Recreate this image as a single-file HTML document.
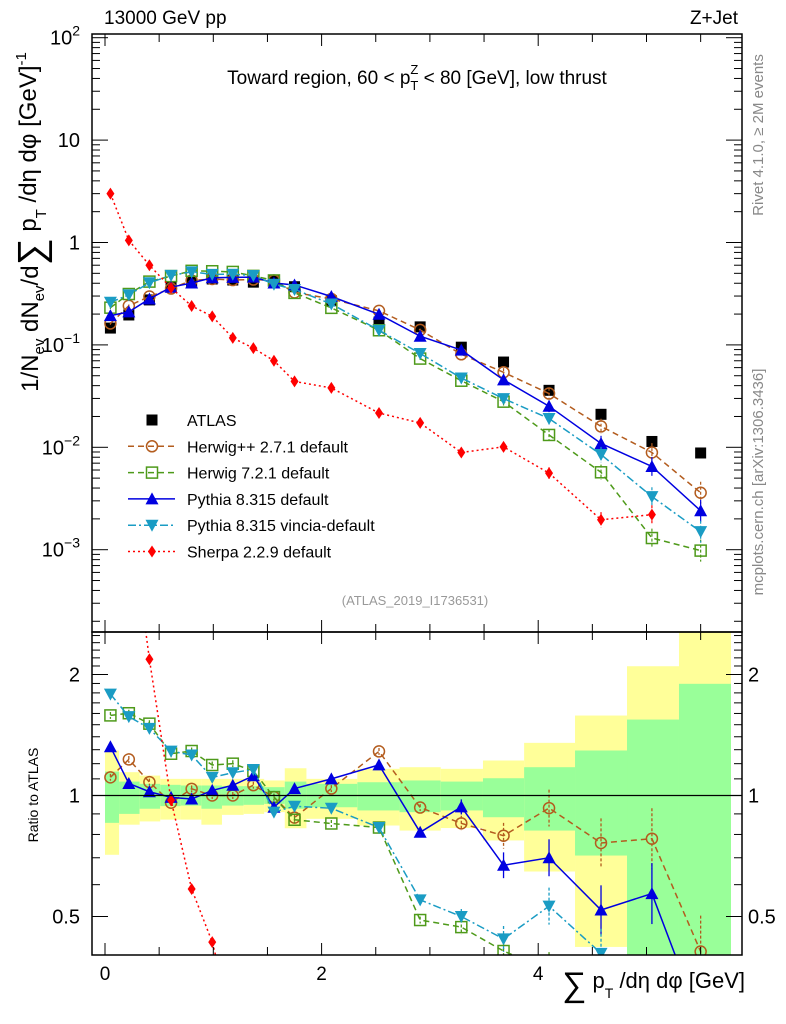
<!DOCTYPE html>
<html><head><meta charset="utf-8">
<style>
html,body{margin:0;padding:0;background:#fff;overflow:hidden;width:786px;height:1024px;}
svg{display:block;font-family:"Liberation Sans",sans-serif;}
</style></head>
<body>
<svg id="chart" width="786" height="1024" viewBox="0 0 786 1024" xmlns="http://www.w3.org/2000/svg">
<defs>
<clipPath id="clipMain"><rect x="92" y="34" width="650" height="598"/></clipPath>
<clipPath id="clipRatio"><rect x="92" y="632" width="650" height="323"/></clipPath>
</defs>
<g id="bands" clip-path="url(#clipRatio)"></g>
<g id="series-main" clip-path="url(#clipMain)"></g>
<g id="series-ratio" clip-path="url(#clipRatio)"></g>
<g id="axes"></g>
<text x="104" y="24" font-size="19">13000 GeV pp</text>
<text x="738" y="24" font-size="19" text-anchor="end">Z+Jet</text>
<text x="417" y="84" font-size="19" text-anchor="middle">Toward region, 60 &lt; p<tspan font-size="13" dy="6">T</tspan><tspan font-size="13" dx="-8" dy="-16">Z</tspan><tspan dy="10"> &lt; 80 [GeV], low thrust</tspan></text>
<text x="415" y="605" font-size="13" fill="#999" text-anchor="middle">(ATLAS_2019_I1736531)</text>
<text transform="translate(763,135) rotate(-90)" font-size="15" fill="#888" text-anchor="middle">Rivet 4.1.0, ≥ 2M events</text>
<text transform="translate(763,482) rotate(-90)" font-size="15" fill="#888" text-anchor="middle">mcplots.cern.ch [arXiv:1306.3436]</text>
<text transform="translate(38,222) rotate(-90)" font-size="24" text-anchor="middle">1/N<tspan font-size="15" dy="6">ev</tspan><tspan dy="-6"> dN</tspan><tspan font-size="15" dy="6">ev</tspan><tspan dy="-6">/d</tspan><tspan font-size="38" dy="6">∑</tspan><tspan dy="-8"> p</tspan><tspan font-size="15" dy="10">T</tspan><tspan dy="-10"> /dη dφ  [GeV]</tspan><tspan font-size="15" dy="-10">-1</tspan></text>
<text transform="translate(38,795) rotate(-90)" font-size="14" text-anchor="middle">Ratio to ATLAS</text>
<text x="745" y="996" font-size="22" text-anchor="end"><tspan font-size="34" dy="0">∑</tspan><tspan dy="-8"> p</tspan><tspan font-size="14" dy="10">T</tspan><tspan dy="-10"> /dη dφ [GeV]</tspan></text>
<g id="legend"></g>
</svg>
<script>
const xCenters = [0.05,0.22,0.41,0.61,0.80,0.99,1.18,1.37,1.56,1.75,2.09,2.53,2.91,3.29,3.68,4.10,4.58,5.05,5.50];
const binEdges = [0,0.13,0.32,0.51,0.70,0.89,1.08,1.28,1.47,1.66,1.86,2.33,2.72,3.10,3.49,3.87,4.34,4.82,5.30,5.78];
const atlas = [0.146,0.196,0.275,0.37,0.41,0.44,0.43,0.41,0.43,0.37,0.27,0.167,0.15,0.095,0.068,0.036,0.021,0.0114,0.0088];
const herwigpp = [0.162,0.241,0.297,0.355,0.426,0.44,0.43,0.435,0.426,0.326,0.281,0.215,0.140,0.081,0.054,0.0335,0.016,0.0089,0.0036];
const herwig7 = [0.231,0.314,0.415,0.470,0.529,0.524,0.516,0.472,0.426,0.322,0.230,0.139,0.0735,0.0447,0.0279,0.0132,0.0057,0.0013,0.00098];
const pythia = [0.193,0.210,0.281,0.366,0.402,0.453,0.456,0.459,0.402,0.385,0.297,0.199,0.1215,0.089,0.0456,0.0252,0.0109,0.0065,0.0024];
const vincia = [0.261,0.308,0.404,0.477,0.517,0.488,0.490,0.476,0.391,0.348,0.251,0.139,0.0825,0.0475,0.0299,0.0191,0.0085,0.0033,0.0015];
const sherpa = [3.0,1.05,0.6,0.36,0.24,0.19,0.117,0.093,0.070,0.044,0.038,0.0216,0.0173,0.0089,0.0101,0.0056,0.00196,0.0022];
const bandYellowHi = [1.294,1.143,1.121,1.100,1.100,1.100,1.100,1.100,1.090,1.169,1.100,1.165,1.176,1.165,1.222,1.352,1.581,2.097,2.55];
const bandYellowLo = [0.712,0.846,0.862,0.871,0.871,0.846,0.895,0.900,0.909,0.829,0.875,0.842,0.818,0.83,0.773,0.647,0.420,0.453,0.39];
const bandGreenHi = [1.147,1.083,1.069,1.063,1.059,1.059,1.055,1.055,1.049,1.083,1.069,1.079,1.090,1.083,1.104,1.176,1.294,1.545,1.896];
const bandGreenLo = [0.855,0.900,0.927,0.941,0.944,0.927,0.944,0.948,0.953,0.927,0.935,0.918,0.909,0.918,0.883,0.818,0.709,0.39,0.39];
const xTicks = [0,2,4];
const yMainTicks = [2,1,0,-1,-2,-3];
const yMainTickLabels = ["10^2","10","1","10^-1","10^-2","10^-3"];
const yRatioTicks = [0.5,1,2];

const NS = "http://www.w3.org/2000/svg";
const X = v => 105 + 108.3*v;
const YM = v => 242.5 - 102.4*Math.log10(v);
const YR = r => 795.5 - 121*Math.log2(r);
const L = 92, R = 742, T = 34, MB = 632, RB = 955;
function mk(tag, attrs, parent){const e=document.createElementNS(NS,tag);for(const k in attrs)e.setAttribute(k,attrs[k]);parent.appendChild(e);return e;}

const bandsG = document.getElementById('bands');
for(let i=0;i<bandYellowHi.length;i++){
  const x0=X(binEdges[i]), x1=X(binEdges[i+1]);
  const yb = mk('rect',{x:x0,y:YR(bandYellowHi[i]),width:x1-x0,height:YR(bandYellowLo[i])-YR(bandYellowHi[i]),fill:'#ffff99'},bandsG);
  
  
  const gb = mk('rect',{x:x0,y:YR(bandGreenHi[i]),width:x1-x0,height:YR(bandGreenLo[i])-YR(bandGreenHi[i]),fill:'#99ff99'},bandsG);
  
  
}

const ax = document.getElementById('axes');
mk('rect',{x:L,y:T,width:R-L,height:MB-T,fill:'none',stroke:'#000','stroke-width':1.5},ax);
mk('rect',{x:L,y:MB,width:R-L,height:RB-MB,fill:'none',stroke:'#000','stroke-width':1.5},ax);
mk('line',{x1:L,x2:R,y1:YR(1),y2:YR(1),stroke:'#000','stroke-width':1.2},ax);
for(let v=0; v<=5.8; v+=0.5){
  const big = Math.abs(v-Math.round(v/2)*2)<1e-6;
  const len = big?12:8;
  for(const [y0,d] of [[T,1],[MB,-1],[MB,1],[RB,-1]]) mk('line',{x1:X(v),x2:X(v),y1:y0,y2:y0+d*len,stroke:'#000'},ax);
}
for(const v of xTicks){
  const t=mk('text',{x:X(v),y:980,'font-size':19,'text-anchor':'middle'},ax); t.textContent=v;
  
  
}
for(let d=-4; d<=2; d++){
  for(let m=1;m<10;m++){
    const v=m*Math.pow(10,d), y=YM(v);
    if(y<T-0.5||y>MB) continue;
    const len = m===1?16:8;
    mk('line',{x1:L,x2:L+len,y1:y,y2:y,stroke:'#000'},ax);
    mk('line',{x1:R,x2:R-len,y1:y,y2:y,stroke:'#000'},ax);
  }
}
yMainTicks.forEach((p,i)=>{
  const lab=yMainTickLabels[i], y=YM(Math.pow(10,p));
  const t=mk('text',{x:80,y:y+7,'font-size':20,'text-anchor':'end'},ax);
  
  
  if(lab.includes('^')){const [b,e]=lab.split('^'); t.textContent=b; const s=mk('tspan',{'font-size':14,dy:-9},t); s.textContent=e.replace('-','−');}
  else t.textContent=lab;
});
for(let r=0.4;r<=2.6;r+=0.1){
  const y=YR(r); if(y<MB||y>RB) continue;
  const big=[0.5,1,2].some(q=>Math.abs(q-r)<1e-6);
  const len=big?16:8;
  mk('line',{x1:L,x2:L+len,y1:y,y2:y,stroke:'#000'},ax);
  mk('line',{x1:R,x2:R-len,y1:y,y2:y,stroke:'#000'},ax);
}
for(const r of yRatioTicks){
  const t=mk('text',{x:80,y:YR(r)+7,'font-size':20,'text-anchor':'end'},ax); t.textContent=r;
  
  
  const t2=mk('text',{x:748,y:YR(r)+7,'font-size':20},ax); t2.textContent=r;
  
  
}

function marker(g,type,x,y,color){
  const s=5.5;
  if(type==='sq') return mk('rect',{x:x-s,y:y-s,width:2*s,height:2*s,fill:'#000'},g);
  if(type==='circ') return mk('circle',{cx:x,cy:y,r:s,fill:'none',stroke:color,'stroke-width':1.5},g);
  if(type==='osq') return mk('rect',{x:x-s,y:y-s,width:2*s,height:2*s,fill:'none',stroke:color,'stroke-width':1.5},g);
  if(type==='up') return mk('polygon',{points:`${x},${y-s-1} ${x-s-1},${y+s} ${x+s+1},${y+s}`,fill:color},g);
  if(type==='down') return mk('polygon',{points:`${x},${y+s+1} ${x-s-1},${y-s} ${x+s+1},${y-s}`,fill:color},g);
  if(type==='dia') return mk('polygon',{points:`${x},${y-6} ${x-4},${y} ${x},${y+6} ${x+4},${y}`,fill:color},g);
}
const series = [
  {name:'herwigpp',data:herwigpp,color:'#b35c1e',dash:'6,4',type:'circ',label:'Herwig++ 2.7.1 default'},
  {name:'herwig7',data:herwig7,color:'#4e9a1a',dash:'6,4',type:'osq',label:'Herwig 7.2.1 default'},
  {name:'pythia',data:pythia,color:'#0000e0',dash:'',type:'up',label:'Pythia 8.315 default'},
  {name:'vincia',data:vincia,color:'#1a9cc4',dash:'8,3,2,3',type:'down',label:'Pythia 8.315 vincia-default'},
  {name:'sherpa',data:sherpa,color:'#ff0000',dash:'2,3',type:'dia',label:'Sherpa 2.2.9 default'}
];
const gm=document.getElementById('series-main'), gr=document.getElementById('series-ratio');
const ga=mk('g',{},gm);


atlas.forEach((v,i)=>{const m=marker(ga,'sq',X(xCenters[i]),YM(v));
  
  });
for(const s of series){
  const g=mk('g',{},gm);
  
  
  const pts=s.data.map((v,i)=>X(xCenters[i])+','+YM(v)).join(' ');
  const pl=mk('polyline',{points:pts,fill:'none',stroke:s.color,'stroke-width':1.5,'stroke-dasharray':s.dash},g);
  
  
  s.data.forEach((v,i)=>{
    const x=X(xCenters[i]);
    const e=0.03+0.3*Math.max(0,(xCenters[i]-3)/3);
    mk('line',{x1:x,x2:x,y1:YM(v*(1+e)),y2:YM(v/(1+e)),stroke:s.color,'stroke-width':1.2,'stroke-dasharray':s.dash?'3,2':''},g);
    const m=marker(g,s.type,x,YM(v),s.color);
    
    });
  const g2=mk('g',{},gr);
  
  
  const rp=s.data.map((v,i)=>X(xCenters[i])+','+YR(v/atlas[i])).join(' ');
  const pl2=mk('polyline',{points:rp,fill:'none',stroke:s.color,'stroke-width':1.5,'stroke-dasharray':s.dash},g2);
  
  
  s.data.forEach((v,i)=>{
    const r=v/atlas[i], x=X(xCenters[i]), y=YR(r);
    const e=0.02+0.25*Math.max(0,(xCenters[i]-3)/3);
    mk('line',{x1:x,x2:x,y1:YR(r*(1+e)),y2:YR(r/(1+e)),stroke:s.color,'stroke-width':1.3,'stroke-dasharray':s.dash?'3,2':''},g2);
    const m=marker(g2,s.type,x,y,s.color);
    
    
  });
}
const lg=document.getElementById('legend');
const rows=[{type:'sq',color:'#000',label:'ATLAS',dash:null}].concat(series);
rows.forEach((s,i)=>{
  const y=420+26.3*i;
  const g=mk('g',{},lg);
  
  
  if(s.dash!==null && s.dash!==undefined) mk('line',{x1:128,x2:175,y1:y,y2:y,stroke:s.color,'stroke-width':1.5,'stroke-dasharray':s.dash},g);
  marker(g,s.type,152,y,s.color);
  const t=mk('text',{x:187,y:y+6,'font-size':16},g); t.textContent=s.label;
});
</script>
</body></html>
